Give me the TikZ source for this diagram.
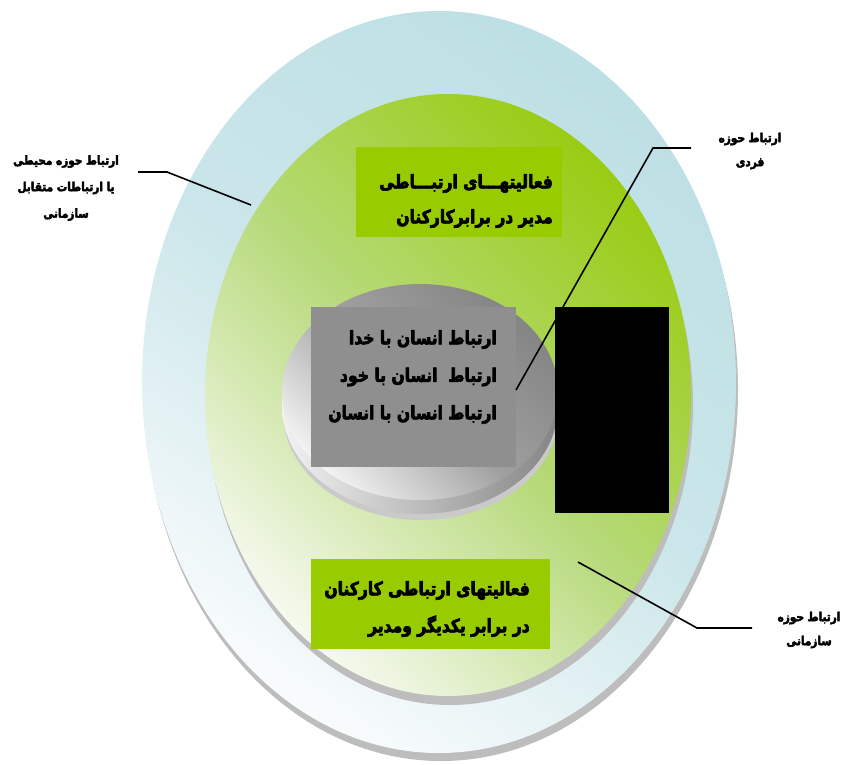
\documentclass[tikz,border=0pt]{standalone}
\usepackage{fontspec}
\newfontfamily\arabicfont[Script=Arabic, FakeStretch=0.84, BoldFeatures={FakeBold=3.5}]{DejaVu Sans}
\TeXXeTstate=1
\definecolor{ringblue}{HTML}{BDE0E4}
\definecolor{ringlight}{HTML}{F8FBFC}
\definecolor{ringmid}{HTML}{CBE6EA}
\definecolor{leaf}{HTML}{9ACC14}
\definecolor{leafmid}{HTML}{B6D978}
\definecolor{leaflight}{HTML}{F5F9EE}
\definecolor{boxgreen}{HTML}{99CC00}
\definecolor{rectgray}{HTML}{8F8F8F}
\definecolor{shadowgray}{HTML}{BDBDBD}
\definecolor{discdark}{HTML}{858585}
\definecolor{discmid}{HTML}{A0A0A0}
\definecolor{disclight}{HTML}{F2F2F2}
\tikzset{
  leader/.style={draw=black, line width=1.6pt},
  smalllabel/.style={font=\arabicfont\bfseries\fontsize{12.5}{24}\selectfont, align=center, inner sep=0pt},
  boxtext/.style={font=\arabicfont\bfseries\fontsize{18.5}{35}\selectfont, align=right, inner sep=0pt, anchor=east},
  greenbox/.style={fill=boxgreen, draw=none},
}
\begin{document}
\begin{tikzpicture}[x=1pt,y=-1pt]
\useasboundingbox (0,0) rectangle (842,764);
% outer ring
\fill[shadowgray] (441,390) ellipse [x radius=297, y radius=371];
\shade[top color=ringblue, bottom color=ringlight, middle color=ringmid, shading angle=-35] (439,382) ellipse [x radius=297, y radius=371];
% green oval
\fill[shadowgray] (450,404) ellipse [x radius=243, y radius=301];
\shade[top color=leaf, bottom color=leaflight, middle color=leafmid, shading angle=-45] (448,395) ellipse [x radius=243, y radius=301];
% disc
\fill[shadowgray!80] (421,412) ellipse [x radius=138, y radius=108];
\shade[left color=disclight, right color=discdark] (420,406) ellipse [x radius=138, y radius=108];
\shade[top color=discdark, bottom color=disclight, middle color=discmid, shading angle=-45] (420,392) ellipse [x radius=138, y radius=108];
% boxes
\fill[greenbox] (356,147) rectangle (562,237);
\fill[greenbox] (311,559) rectangle (550,649);
\fill[rectgray] (311,307) rectangle (516,467);
\fill[black] (555,307) rectangle (669,513);
% texts
\node[boxtext] (topbox) at (553,201) {\beginR فعالیتهـــای ارتبـــاطی\endR\\\beginR مدیر در برابرکارکنان\endR};
\node[boxtext, font=\arabicfont\bfseries\fontsize{18.5}{37.5}\selectfont] (graytext) at (497,377) {\beginR ارتباط انسان با خدا\endR\\\beginR ارتباط \ انسان با خود\endR\\\beginR ارتباط انسان با انسان\endR};
\node[boxtext, font=\arabicfont\bfseries\fontsize{18.5}{37}\selectfont] (bottombox) at (530,609) {\beginR فعالیتهای ارتباطی کارکنان\endR\\\beginR در برابر یکدیگر ومدیر\endR};
\node[smalllabel, font=\arabicfont\bfseries\fontsize{12.5}{26.5}\selectfont] (leftlabel) at (66,188) {\beginR ارتباط حوزه محیطی\endR\\\beginR یا ارتباطات متقابل\endR\\\beginR سازمانی\endR};
\node[smalllabel] (fardi) at (750,151) {\beginR ارتباط حوزه\endR\\\beginR فردی\endR};
\node[smalllabel] (sazmani) at (809,630) {\beginR ارتباط حوزه\endR\\\beginR سازمانی\endR};
% leaders
\coordinate (l1) at (138,172);
\coordinate (l2) at (167,172);
\coordinate (l3) at (251,205);
\draw[leader] (l1) -- (l2) -- (l3);
\coordinate (r1) at (691,148);
\coordinate (r2) at (653,148);
\coordinate (r3) at (516,390);
\draw[leader] (r1) -- (r2) -- (r3);
\coordinate (b1) at (578,562);
\coordinate (b2) at (697,628);
\coordinate (b3) at (752,628);
\draw[leader] (b1) -- (b2) -- (b3);
\end{tikzpicture}
\end{document}
